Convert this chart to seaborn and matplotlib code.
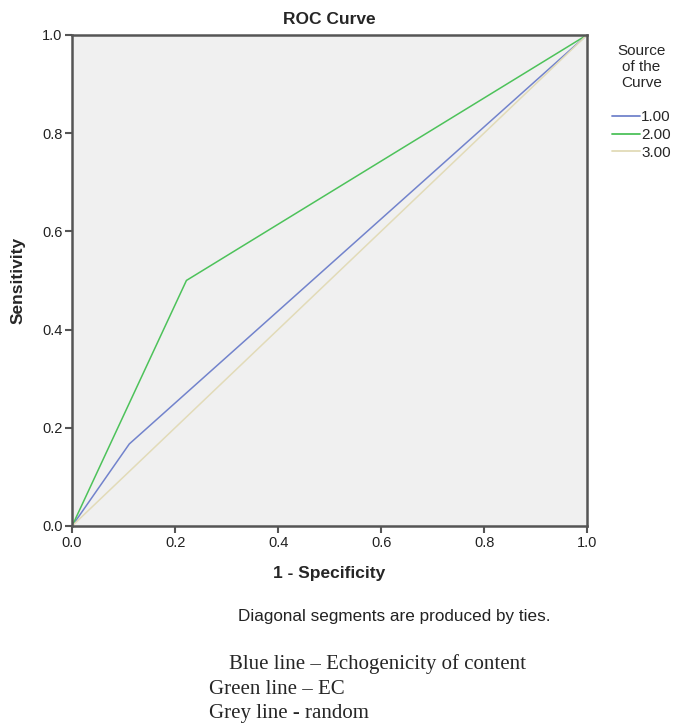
import matplotlib
matplotlib.use("Agg")
import matplotlib.pyplot as plt
import seaborn as sns
import pandas as pd

# Data
source = ["1.00", "2.00", "3.00"]
fpr_1 = [0.0, 0.111, 1.0]
tpr_1 = [0.0, 0.167, 1.0]
fpr_2 = [0.0, 0.222, 1.0]
tpr_2 = [0.0, 0.5, 1.0]
fpr_3 = [0.0, 1.0]
tpr_3 = [0.0, 1.0]
ticks = [0.0, 0.2, 0.4, 0.6, 0.8, 1.0]
colors = ["#7283cc", "#4dc25a", "#e2dbb8"]

rows = []
for s, xs, ys in zip(source, [fpr_1, fpr_2, fpr_3], [tpr_1, tpr_2, tpr_3]):
    for i, (x, y) in enumerate(zip(xs, ys)):
        rows.append({"Source": s, "fpr": x, "tpr": y, "order": i})
df = pd.DataFrame(rows)

sns.set_style("white")
plt.rcParams["font.family"] = ["Liberation Sans", "DejaVu Sans"]

fig = plt.figure(figsize=(6.74, 7.27), dpi=100)
ax = fig.add_axes([0.107, 0.2765, 0.764, 0.6755])
ax.set_facecolor("#f0f0f0")

sns.lineplot(data=df, x="fpr", y="tpr", hue="Source", palette=colors,
             sort=False, estimator=None, units="Source", ax=ax, linewidth=1.1,
             legend=False)

ax.set_xlim(0, 1)
ax.set_ylim(0, 1)
ax.set_xticks(ticks)
ax.set_yticks(ticks)
ax.set_xticklabels([f"{t:.1f}" for t in ticks], fontsize=10.5)
ax.set_yticklabels([f"{t:.1f}" for t in ticks], fontsize=10.5)
ax.tick_params(axis="both", length=5, width=1.5, color="#555555", pad=2,
               labelcolor="#222222", direction="out", bottom=True, left=True)
for sp in ax.spines.values():
    sp.set_color("#555555")
    sp.set_linewidth(1.8)

ax.set_xlabel("1 - Specificity", fontsize=12.5, fontweight="bold", labelpad=12)
ax.set_ylabel("Sensitivity", fontsize=12.5, fontweight="bold", labelpad=12)
ax.set_title("ROC Curve", fontsize=12.5, fontweight="bold", pad=8)

from matplotlib.lines import Line2D
handles = [Line2D([0], [0], color=c, lw=1.3) for c in colors]
leg = fig.legend(handles, source, title="Source\nof the\nCurve\n",
                 loc="upper left", bbox_to_anchor=(0.9036, 0.944),
                 frameon=False, fontsize=11, title_fontsize=11,
                 handlelength=1.85, handletextpad=0.05, labelspacing=0.25,
                 borderpad=0.2, borderaxespad=0)
leg.get_title().set_multialignment("center")

fig.text(0.585, 0.152, "Diagonal segments are produced by ties.",
         ha="center", va="center", fontsize=12.3, color="#222222")
serif = ["Liberation Serif", "DejaVu Serif"]
fig.text(0.34, 0.086, "Blue line \u2013 Echogenicity of content",
         ha="left", va="center", fontsize=15, family=serif)
fig.text(0.31, 0.052, "Green line \u2013 EC",
         ha="left", va="center", fontsize=15, family=serif)
fig.text(0.31, 0.018, "Grey line - random",
         ha="left", va="center", fontsize=15, family=serif)

fig.savefig("out.png", dpi=100)
